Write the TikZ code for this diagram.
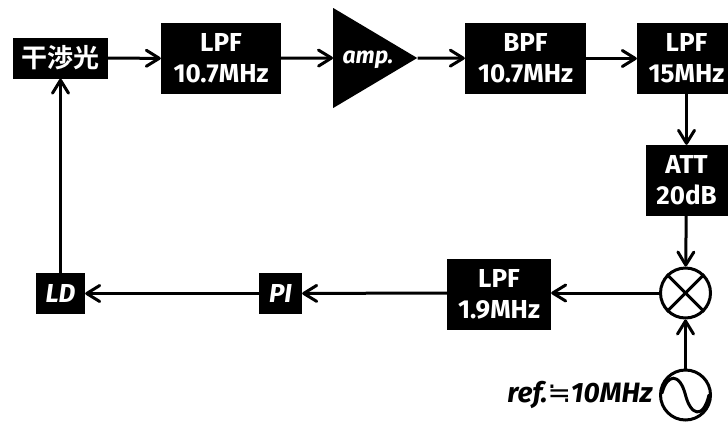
\documentclass[tikz,border=0pt]{standalone}
\usepackage{fontspec}
\setmainfont{Fira Sans}
\newfontfamily\cjk{Noto Sans CJK JP}[BoldFont=Noto Sans CJK JP Bold]
\newfontfamily\symb{DejaVu Sans}
\usepackage{tikz}
\usetikzlibrary{positioning, shapes.geometric, arrows.meta}

\begin{document}
\begin{tikzpicture}[
    x=1pt, y=1pt,
    block/.style={rectangle, fill=black, text=white, inner sep=0pt, minimum height=71pt, align=center, font=\fontsize{26}{31}\selectfont\bfseries},
    small/.style={block, minimum height=41pt},
    mixcirc/.style={circle, draw=black, line width=3pt, minimum size=50pt, inner sep=0pt},
    sig/.style={line width=3pt, -{Straight Barb[length=13pt, width=16pt, round]}}
]
    \useasboundingbox (0,0) rectangle (728,-421);
    \clip (0,0) rectangle (728,-421);

    % Blocks
    \node[small, minimum width=95pt] (Light) at (60.5,-58) {\cjk 干渉光};
    \node[block, minimum width=120pt] (LpfA) at (221,-58.5) {LPF\\10.7MHz};
    \node[isosceles triangle, isosceles triangle apex angle=61.5, isosceles triangle stretches, fill=black, inner sep=0pt, minimum height=84pt, minimum width=100pt, anchor=west] (Amp) at (333,-58) {};
    \node[text=white, font=\fontsize{23}{27}\selectfont\bfseries\itshape] (AmpText) at (368,-60) {amp.};
    \node[block, minimum width=121pt] (Bpf) at (525.5,-58.5) {BPF\\10.7MHz};
    \node[block, minimum width=99pt] (LpfB) at (686.5,-58.5) {LPF\\15MHz};
    \node[block, minimum width=82pt] (Att) at (686.5,-180.5) {ATT\\20dB};
    \node[mixcirc] (Mix) at (685.5,-293) {};
    \node[mixcirc] (Osc) at (685.5,-395) {};
    \node[block, minimum width=104pt] (LpfC) at (499,-294) {LPF\\1.9MHz};
    \node[small, minimum width=43pt, font=\fontsize{26}{31}\selectfont\bfseries\itshape] (Pi) at (280.5,-293.5) {PI};
    \node[small, minimum width=49pt, font=\fontsize{26}{31}\selectfont\bfseries\itshape] (Ld) at (60.5,-293.5) {LD};
    \node[left=3pt of Osc, font=\fontsize{28}{33}\selectfont\bfseries\itshape] (Ref) {ref.{\symb\upshape\mdseries ≒}10MHz};

    % Mixer cross and oscillator wave
    \draw[line width=3pt] (Mix.north west) -- (Mix.south east);
    \draw[line width=3pt] (Mix.north east) -- (Mix.south west);
    \draw[line width=3pt, line cap=round] ([shift={(3,2)}]Osc.west) .. controls +(5,19) and +(-6,23) .. (Osc.center) .. controls +(5,-20) and +(-6,-25) .. ([shift={(-3,0)}]Osc.east);

    % Signal path
    \draw[sig] (Light) -- (LpfA);
    \draw[sig] (LpfA) -- (Amp.west);
    \draw[sig] (Amp.apex) -- (Bpf);
    \draw[sig] (Bpf) -- (LpfB);
    \draw[sig] (LpfB) -- (Att);
    \draw[sig] (Att) -- (Mix);
    \draw[sig] (Osc) -- (Mix);
    \draw[sig] (Mix.west) -- (Mix.west -| LpfC.east);
    \draw[sig] (LpfC.west |- Mix.west) -- (Pi);
    \draw[sig] (Pi) -- (Ld);
    \draw[sig] (Ld) -- (Light);

\end{tikzpicture}
\end{document}
